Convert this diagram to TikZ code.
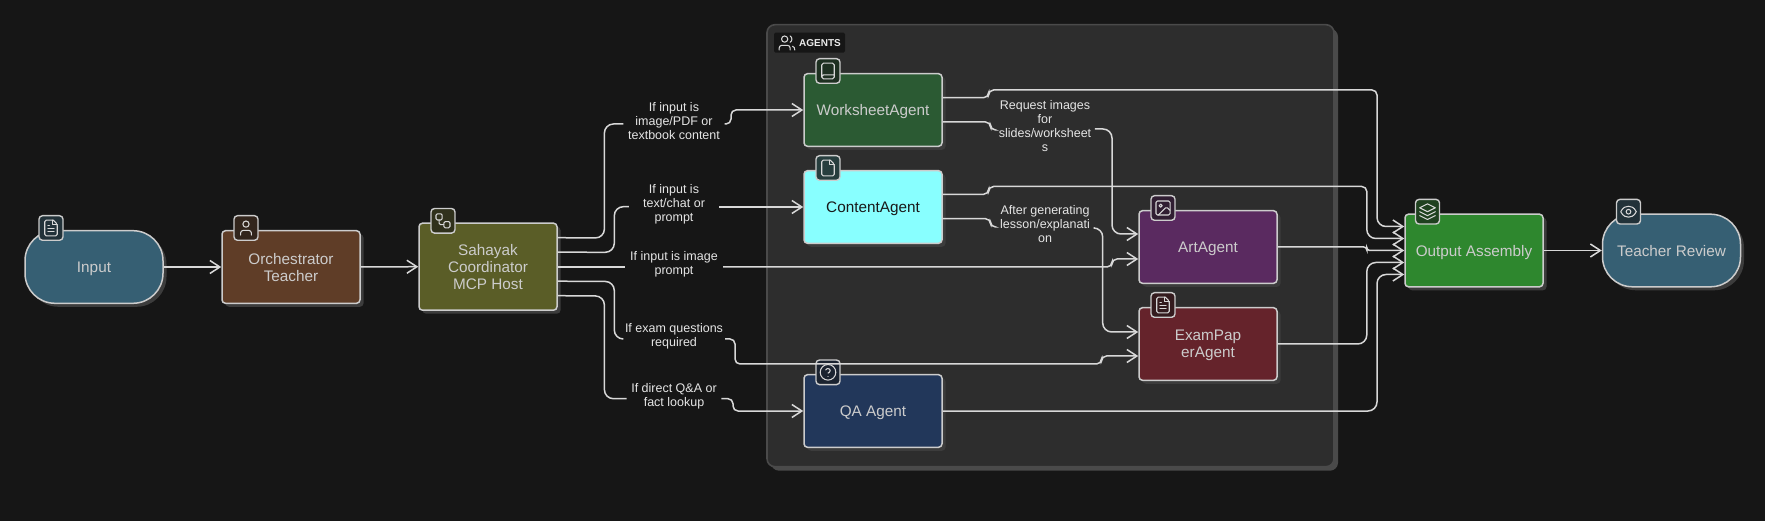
\documentclass[tikz,border=0pt]{standalone}
\usepackage{fontspec}
\setmainfont{Liberation Sans}
\usetikzlibrary{arrows.meta,shadows}

\definecolor{pagebg}{HTML}{161616}
\definecolor{groupbg}{HTML}{2D2D2D}
\definecolor{groupline}{HTML}{4A4A4A}
\definecolor{shadowcol}{HTML}{3C3C3C}
\definecolor{wirecol}{HTML}{D8D8D8}
\definecolor{boxline}{HTML}{CCCCCC}
\definecolor{inputcol}{HTML}{365F73}
\definecolor{orchcol}{HTML}{5F3D27}
\definecolor{hostcol}{HTML}{5A5D27}
\definecolor{sheetcol}{HTML}{2B5A33}
\definecolor{contentcol}{HTML}{88FFFF}
\definecolor{artcol}{HTML}{5A2A60}
\definecolor{examcol}{HTML}{65232B}
\definecolor{qacol}{HTML}{22375A}
\definecolor{outcol}{HTML}{2E872E}

\tikzset{
  stepbox/.style={draw=boxline,line width=1.5pt,rounded corners=3.5pt,minimum width=138pt,minimum height=72.6pt,
    inner sep=2pt,align=center,text=boxline,text depth=0pt,font=\fontsize{15.3}{17}\selectfont,
    drop shadow={shadow xshift=3.5pt,shadow yshift=-3.5pt,fill=shadowcol,opacity=1}},
  endbox/.style={stepbox,rounded corners=30pt},
  iconbox/.style={draw=boxline,line width=1.4pt,rounded corners=3.5pt,minimum width=24pt,minimum height=24.6pt,
    inner sep=0pt,fill=#1!38!pagebg},
  edgelabel/.style={inner sep=0pt,align=center,text=white!90!black,text depth=0pt,font=\fontsize{12.5}{14}\selectfont},
  wire/.style={draw=wirecol,line width=1.5pt,rounded corners=9pt},
  flow/.style={wire,-{Straight Barb[length=10pt,width=13pt,line width=1.5pt]}},
  icoline/.style={draw=wirecol,line width=1.05pt,line cap=round,line join=round},
  lucide/.style={x=0.78pt,y=-0.78pt,xshift=-9.36pt,yshift=9.36pt},
  pics/icoDoc/.style={code={
    \draw[icoline,rounded corners=1.4pt] (15,2) -- (4,2) -- (4,22) -- (20,22) -- (20,7) [sharp corners] -- cycle;
    \draw[icoline] (14,2) -- (14,8) -- (20,8);
    \draw[icoline] (10,9) -- (8,9) (16,13) -- (8,13) (16,17) -- (8,17);}},
  pics/icoFile/.style={code={
    \draw[icoline,rounded corners=1.4pt] (15,2) -- (4,2) -- (4,22) -- (20,22) -- (20,7) [sharp corners] -- cycle;
    \draw[icoline] (14,2) -- (14,8) -- (20,8);}},
  pics/icoUser/.style={code={
    \draw[icoline] (12,7) circle[radius=4];
    \draw[icoline,rounded corners=2.8pt] (19,21) -- (19,15) -- (5,15) -- (5,21);}},
  pics/icoFlow/.style={code={
    \draw[icoline,rounded corners=1.4pt] (3,3) rectangle (11,11);
    \draw[icoline,rounded corners=1.4pt] (13,13) rectangle (21,21);
    \draw[icoline,rounded corners=1.4pt] (7,11) -- (7,17) -- (13,17);}},
  pics/icoBook/.style={code={
    \draw[icoline,rounded corners=1.6pt] (4,20) -- (4,2) -- (20,2) -- (20,22) -- (4,22) -- (4,17) -- (20,17);}},
  pics/icoImage/.style={code={
    \draw[icoline,rounded corners=1.4pt] (3,3) rectangle (21,21);
    \draw[icoline] (9,9) circle[radius=2];
    \draw[icoline,rounded corners=1.4pt] (21,15) -- (16.5,10.5) -- (6,21);}},
  pics/icoHelp/.style={code={
    \draw[icoline] (12,12) circle[radius=10];
    \draw[icoline] (9.1,9) .. controls (9.6,6.5) and (14.9,6.5) .. (14.9,10) .. controls (14.9,12) and (12,13) .. (12,13);
    \draw[icoline] (12,17) -- (12.01,17);}},
  pics/icoLayers/.style={code={
    \draw[icoline] (12,2) -- (22,7) -- (12,12) -- (2,7) -- cycle;
    \draw[icoline] (2,12) -- (12,17) -- (22,12);
    \draw[icoline] (2,17) -- (12,22) -- (22,17);}},
  pics/icoEye/.style={code={
    \draw[icoline] (2,12) .. controls (5,6) and (9,5) .. (12,5) .. controls (15,5) and (19,6) .. (22,12)
      .. controls (19,18) and (15,19) .. (12,19) .. controls (9,19) and (5,18) .. (2,12) -- cycle;
    \draw[icoline] (12,12) circle[radius=3];}},
  pics/icoUsers/.style={code={
    \draw[icoline] (9,7) circle[radius=4];
    \draw[icoline,rounded corners=2.6pt] (16,21) -- (16,15) -- (2,15) -- (2,21);
    \draw[icoline] (22,21) .. controls (22,18.5) and (21,16.7) .. (19,16.1);
    \draw[icoline] (16,3.1) .. controls (19,4) and (19,10) .. (16,10.9);}},
}

\begin{document}
\begin{tikzpicture}[x=1pt,y=-1pt]
  \useasboundingbox (0,0) rectangle (1765,521);
  \fill[pagebg] (0,0) rectangle (1765,521);

  % agents panel
  \node (agentsPanel) [draw=groupline,fill=groupbg,line width=1.6pt,rounded corners=8pt,minimum width=567pt,minimum height=442pt,
    drop shadow={shadow xshift=4pt,shadow yshift=-4pt,fill=groupline,opacity=1}] at (1050.5,245.7) {};
  \node (agentsTag) [fill=pagebg,rounded corners=1.5pt,minimum width=71pt,minimum height=20pt,inner sep=0pt] at (809.5,42.7) {};
  \node (agentsText) [text=white!92!black,inner sep=0pt,font=\fontsize{10}{12}\selectfont\bfseries] at (820,43) {AGENTS};

  % main boxes
  \node (inputNode) [endbox,fill=inputcol] at (94,267) {Input};
  \node (orchNode) [stepbox,fill=orchcol] at (291,267) {Orchestrator\\Teacher};
  \node (hostNode) [stepbox,fill=hostcol,minimum height=87pt] at (488,266.7) {Sahayak\\Coordinator\\MCP Host};
  \node (sheetNode) [stepbox,fill=sheetcol] at (873,110) {WorksheetAgent};
  \node (contentNode) [stepbox,fill=contentcol,text=black!90] at (873,207) {ContentAgent};
  \node (qaNode) [stepbox,fill=qacol] at (873,411) {QA Agent};
  \node (artNode) [stepbox,fill=artcol] at (1208,247) {ArtAgent};
  \node (examNode) [stepbox,fill=examcol] at (1208,344) {ExamPap\\erAgent};
  \node (outNode) [stepbox,fill=outcol] at (1474,250.5) {Output Assembly};
  \node (reviewNode) [endbox,fill=inputcol] at (1671.5,250.5) {Teacher Review};

  % icon badges
  \node (inputBadge) [iconbox=inputcol] at (51,228) {};
  \node (orchBadge) [iconbox=orchcol] at (246,228) {};
  \node (hostBadge) [iconbox=hostcol] at (443,220.8) {};
  \node (sheetBadge) [iconbox=sheetcol] at (828,71) {};
  \node (contentBadge) [iconbox=contentcol!50!black] at (828,168) {};
  \node (qaBadge) [iconbox=qacol] at (828,372.3) {};
  \node (artBadge) [iconbox=artcol] at (1163,208) {};
  \node (examBadge) [iconbox=examcol] at (1163,305) {};
  \node (outBadge) [iconbox=outcol] at (1427.5,211.7) {};
  \node (reviewBadge) [iconbox=inputcol] at (1628.5,211.7) {};
  \path (inputBadge.center) pic[lucide] {icoDoc};
  \path (orchBadge.center) pic[lucide] {icoUser};
  \path (hostBadge.center) pic[lucide] {icoFlow};
  \path (sheetBadge.center) pic[lucide] {icoBook};
  \path (contentBadge.center) pic[lucide] {icoFile};
  \path (qaBadge.center) pic[lucide] {icoHelp};
  \path (artBadge.center) pic[lucide] {icoImage};
  \path (examBadge.center) pic[lucide] {icoDoc};
  \path (outBadge.center) pic[lucide] {icoLayers};
  \path (reviewBadge.center) pic[lucide] {icoEye};
  \path (787,43) pic[lucide] {icoUsers};

  % edge labels
  \node (imageLabel) [edgelabel,minimum width=101pt] at (674,121) {If input is\\image/PDF or\\textbook content};
  \node (chatLabel) [edgelabel,minimum width=90pt] at (674,203) {If input is\\text/chat or\\prompt};
  \node (promptLabel) [edgelabel,minimum width=97.6pt] at (674,263) {If input is image\\prompt};
  \node (examLabel) [edgelabel,minimum width=102pt] at (674,335) {If exam questions\\required};
  \node (factLabel) [edgelabel,minimum width=94.5pt] at (674,395) {If direct Q\&A or\\fact lookup};
  \node (requestLabel) [edgelabel,minimum width=99.5pt] at (1045,126) {Request images\\for\\slides/worksheet\\s};
  \node (lessonLabel) [edgelabel,minimum width=99pt] at (1045,223.5) {After generating\\lesson/explanati\\on};

  % connectors
  \draw[flow] (inputNode.east) -- (orchNode.west);
  \draw[flow] (orchNode.east) -- (hostNode.west);
  \draw[flow] (outNode.east) -- (reviewNode.west);

  \draw[wire] ([yshift=29pt]hostNode.east) -- (604.4,238) -- (604.4,124) -- ([yshift=-3pt]imageLabel.west);
  \draw[flow,rounded corners=5pt] ([yshift=-3pt]imageLabel.east) -- (731,124) -- (731,110) -- (sheetNode.west);
  \draw[wire] ([yshift=14.5pt]hostNode.east) -- (614.3,252.3) -- (614.3,206.7) -- ([yshift=-3.7pt]chatLabel.west);
  \draw[flow] ([yshift=-4pt]chatLabel.east) -- (contentNode.west);
  \draw[wire] ([yshift=-.3pt]hostNode.east) -- ([yshift=-4pt]promptLabel.west);
  \draw[flow,rounded corners=5pt] ([yshift=-4pt]promptLabel.east) -- (1112,267) -- (1112,259) -- ([yshift=-12pt]artNode.west);
  \draw[wire] ([yshift=-14.5pt]hostNode.east) -- (614.3,281.5) -- (614.3,339) -- ([yshift=-4pt]examLabel.west);
  \draw[flow,rounded corners=5pt] ([yshift=-4pt]examLabel.east) -- (735,339) -- (735,364) -- (1101.5,364) -- (1101.5,356) -- ([yshift=-12pt]examNode.west);
  \draw[wire] ([yshift=-29pt]hostNode.east) -- (604.4,296) -- (604.4,398.7) -- ([yshift=-3.7pt]factLabel.west);
  \draw[flow,rounded corners=5pt] ([yshift=-3.7pt]factLabel.east) -- (733,398.7) -- (733,411) -- (qaNode.west);

  \draw[flow,rounded corners=5pt] ([yshift=12.3pt]sheetNode.east) -- (988.6,97.7) -- (988.6,90) -- (1377,90) [rounded corners=9pt] -- (1377,226.5) -- ([yshift=24pt]outNode.west);
  \draw[wire,rounded corners=5pt] ([yshift=-12pt]sheetNode.east) -- (990.5,122) -- (990.5,130) -- ([yshift=-4pt]requestLabel.west);
  \draw[flow] ([yshift=-3pt]requestLabel.east) -- (1112,129) -- (1112,234) -- ([yshift=13pt]artNode.west);
  \draw[flow,rounded corners=5pt] ([yshift=12.7pt]contentNode.east) -- (988.6,194.3) -- (988.6,186.5) -- (1366.8,186.5) [rounded corners=9pt] -- (1366.8,238.5) -- ([yshift=12pt]outNode.west);
  \draw[wire,rounded corners=5pt] ([yshift=-11.7pt]contentNode.east) -- (990.5,218.7) -- (990.5,227) -- ([yshift=-3.5pt]lessonLabel.west);
  \draw[flow] ([yshift=-4.5pt]lessonLabel.east) -- (1102.7,228) -- (1102.7,332) -- ([yshift=12pt]examNode.west);
  \draw[flow,rounded corners=3pt] (artNode.east) -- (1366.8,247) -- (1366.8,250.5) -- (outNode.west);
  \draw[flow] (examNode.east) -- (1366.8,344) -- (1366.8,262.5) -- ([yshift=-12pt]outNode.west);
  \draw[flow] (qaNode.east) -- (1377,411) -- (1377,274.5) -- ([yshift=-24pt]outNode.west);
\end{tikzpicture}
\end{document}
